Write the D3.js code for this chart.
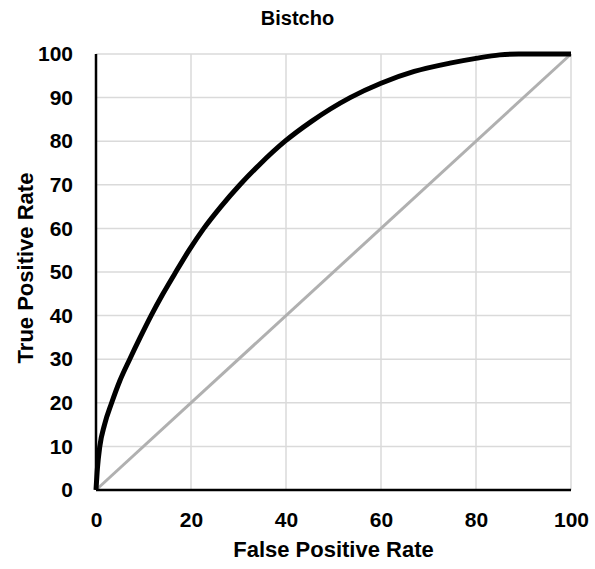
<!DOCTYPE html>
<html>
<head>
<meta charset="utf-8">
<script src="https://cdn.jsdelivr.net/npm/d3@7"></script>
<style>
  body { margin: 0; background: #fff; }
  text { font-family: "Liberation Sans", Arial, Helvetica, sans-serif; font-weight: bold; fill: #000; }
</style>
</head>
<body>
<svg width="595" height="569"></svg>
<script>
// ROC curve (false positive rate, true positive rate)
var fpr = [0, 0.3, 0.8, 1.8, 3.3, 5, 7.1, 9.3, 11.6, 14.1, 16.8, 19.6, 22.7, 26.3, 30.3, 34.3, 39.8, 45.3, 53.5, 60, 67, 74.5, 80, 85, 89, 100];
var tpr = [0, 5, 10, 15, 20, 25, 30, 35, 40, 45, 50, 55, 60, 65, 70, 74.5, 80, 84.5, 90, 93.3, 96, 97.9, 99, 99.8, 100, 100];
var chance = [0, 100];
var xTicks = [0, 20, 40, 60, 80, 100];
var yTicks = [0, 10, 20, 30, 40, 50, 60, 70, 80, 90, 100];

var svg = d3.select('svg');
var svgWidth = +svg.attr('width');

var padding = {t: 54, r: 24, b: 79, l: 96};
var chartWidth = 571 - padding.l;
var chartHeight = 490 - padding.t;

var x = d3.scaleLinear().domain([0, 100]).range([0, chartWidth]);
var y = d3.scaleLinear().domain([0, 100]).range([chartHeight, 0]);

var chartG = svg.append('g')
    .attr('transform', 'translate(' + [padding.l, padding.t] + ')');

// gridlines
chartG.append('g').selectAll('line.vgrid')
    .data(xTicks.slice(1))
    .enter().append('line')
    .attr('x1', function(d) { return x(d); })
    .attr('x2', function(d) { return x(d); })
    .attr('y1', 0).attr('y2', chartHeight)
    .attr('stroke', '#dadada').attr('stroke-width', 1.5);
chartG.append('g').selectAll('line.hgrid')
    .data(yTicks.slice(1))
    .enter().append('line')
    .attr('x1', 0).attr('x2', chartWidth)
    .attr('y1', function(d) { return y(d); })
    .attr('y2', function(d) { return y(d); })
    .attr('stroke', '#dadada').attr('stroke-width', 1.5);

// axes (no tick marks, just labels)
var xAxis = d3.axisBottom(x).tickValues(xTicks).tickSize(0).tickPadding(22);
var yAxis = d3.axisLeft(y).tickValues(yTicks).tickSize(0).tickPadding(23);

var gx = chartG.append('g')
    .attr('transform', 'translate(' + [0, chartHeight] + ')')
    .call(xAxis);
var gy = chartG.append('g').call(yAxis);

[gx, gy].forEach(function(g) {
    g.select('.domain').remove();
    g.selectAll('text')
        .style('font-family', '"Liberation Sans", Arial, sans-serif')
        .style('font-weight', 'bold')
        .style('font-size', '21px')
        .attr('fill', '#000');
});

// chance diagonal
var line = d3.line()
    .x(function(d) { return x(d[0]); })
    .y(function(d) { return y(d[1]); });

chartG.append('path')
    .datum(chance.map(function(d) { return [d, d]; }))
    .attr('d', line)
    .attr('fill', 'none')
    .attr('stroke', '#b0b0b0')
    .attr('stroke-width', 3);

// roc curve
var rocLine = d3.line()
    .x(function(d) { return x(d[0]); })
    .y(function(d) { return y(d[1]); })
    .curve(d3.curveMonotoneX);

chartG.append('path')
    .datum(fpr.map(function(d, i) { return [d, tpr[i]]; }))
    .attr('d', rocLine)
    .attr('fill', 'none')
    .attr('stroke', '#000')
    .attr('stroke-width', 5)
    .attr('stroke-linejoin', 'round');

// axis lines
chartG.append('line')
    .attr('x1', 0).attr('x2', 0)
    .attr('y1', 0).attr('y2', chartHeight)
    .attr('stroke', '#000').attr('stroke-width', 2.5);
chartG.append('line')
    .attr('x1', 0).attr('x2', chartWidth)
    .attr('y1', chartHeight).attr('y2', chartHeight)
    .attr('stroke', '#000').attr('stroke-width', 2.5);

// titles
svg.append('text')
    .attr('x', svgWidth / 2)
    .attr('y', 25)
    .attr('text-anchor', 'middle')
    .style('font-size', '20px')
    .text('Bistcho');

svg.append('text')
    .attr('x', padding.l + chartWidth / 2)
    .attr('y', 557)
    .attr('text-anchor', 'middle')
    .style('font-size', '22px')
    .text('False Positive Rate');

svg.append('text')
    .attr('transform', 'translate(' + [33, 268] + ') rotate(-90)')
    .attr('text-anchor', 'middle')
    .style('font-size', '22px')
    .text('True Positive Rate');
</script>
</body>
</html>
